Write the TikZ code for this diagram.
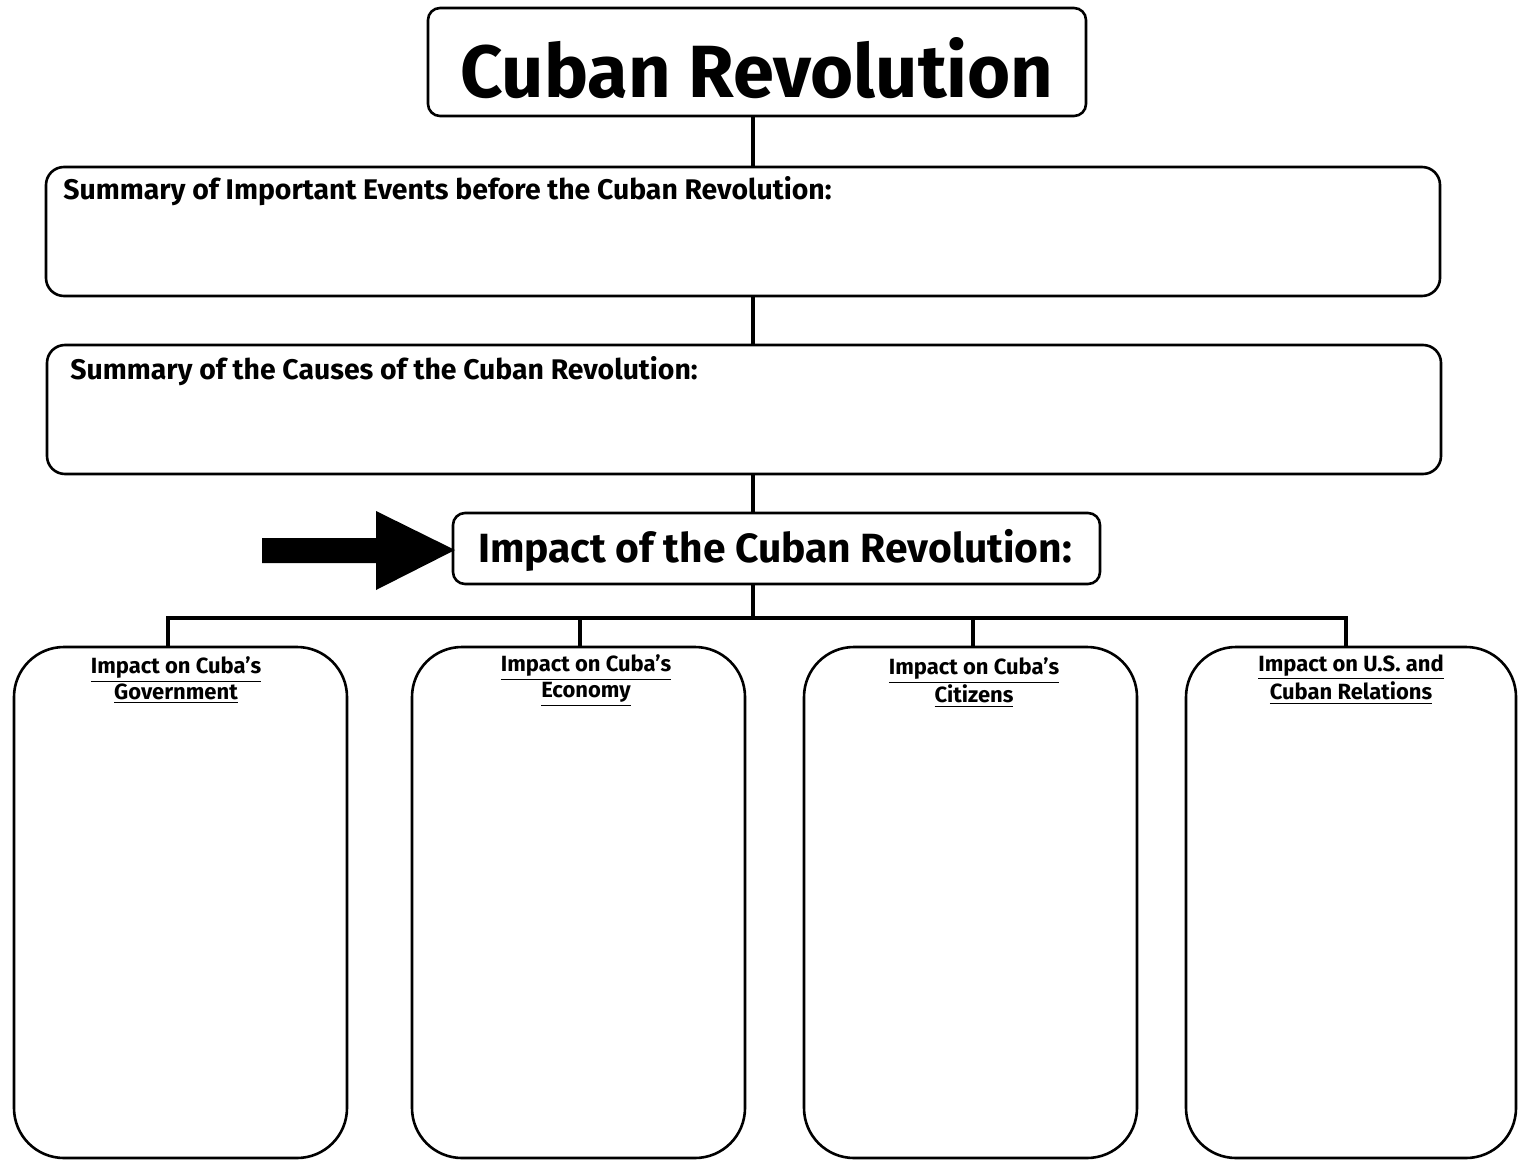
\documentclass[tikz,border=0pt]{standalone}
\usepackage{fontspec}
\setmainfont{Fira Sans}[UprightFont=* SemiBold, BoldFont=* Bold]
\begin{document}
\begin{tikzpicture}[x=0.5pt,y=-0.5pt,
  box/.style={draw=black,line width=1.3pt,rounded corners=#1},
  wire/.style={draw=black,line width=1.6pt},
  lab/.style={font=\bfseries\fontsize{11}{13}\selectfont,align=center,anchor=north,inner sep=0pt}]
\useasboundingbox (0,0) rectangle (1518,1160);
% title
\draw[box=6pt] (428,8) rectangle (1086,116);
\node[inner sep=0pt] (title) at (757,68) {\bfseries\fontsize{37}{37}\selectfont Cuban Revolution};
\coordinate (t) at (753,116);
% summary boxes
\draw[box=9pt] (46,167) rectangle (1440,296);
\coordinate (s1t) at (753,167); \coordinate (s1b) at (753,296);
\node[anchor=base west,inner sep=0pt] (s1) at (63,200) {\bfseries\fontsize{14.2}{15}\selectfont Summary of Important Events before the Cuban Revolution:};
\draw[box=9pt] (47,345) rectangle (1441,474);
\coordinate (s2t) at (753,345); \coordinate (s2b) at (753,474);
\node[anchor=base west,inner sep=0pt] (s2) at (70,379) {\bfseries\fontsize{14.2}{15}\selectfont Summary of the Causes of the Cuban Revolution:};
% impact
\draw[box=6pt] (453,513) rectangle (1100,584);
\node[inner sep=0pt] (impact) at (775,550) {\bfseries\fontsize{20.4}{22}\selectfont Impact of the Cuban Revolution:};
\coordinate (it) at (753,513); \coordinate (ib) at (753,584);
\coordinate (iw) at (455,550);
\path[wire] (t) -- (s1t);
\path[wire] (s1b) -- (s2t);
\path[wire] (s2b) -- (it);
% block arrow
\fill[black] (262,538) -- (376,538) -- (376,511) -- (iw) -- (376,590) -- (376,563) -- (262,563) -- cycle;
% branches
\coordinate (bj) at (753,618);
\path[wire] (ib) -- (bj);
\path[wire] (168,647) -- (168,618) -- (1346,618) -- (1346,647);
\path[wire] (580,618) -- (580,647);
\path[wire] (973,618) -- (973,647);
% bottom boxes
\draw[box=25pt] (14,647) rectangle (347,1158);
\draw[box=25pt] (412,647) rectangle (745,1158);
\draw[box=25pt] (804,647) rectangle (1137,1158);
\draw[box=25pt] (1186,647) rectangle (1516,1158);
\node[lab] (l1) at (176,656) {\underline{Impact on Cuba’s}\\\underline{Government}};
\node[lab] (l2) at (586,654) {\underline{Impact on Cuba’s}\\\underline{Economy}};
\node[lab] (l3) at (974,657) {\underline{Impact on Cuba’s}\\\underline{Citizens}};
\node[lab] (l4) at (1351,654) {\underline{Impact on U.S. and}\\\underline{Cuban Relations}};
\end{tikzpicture}
\end{document}
